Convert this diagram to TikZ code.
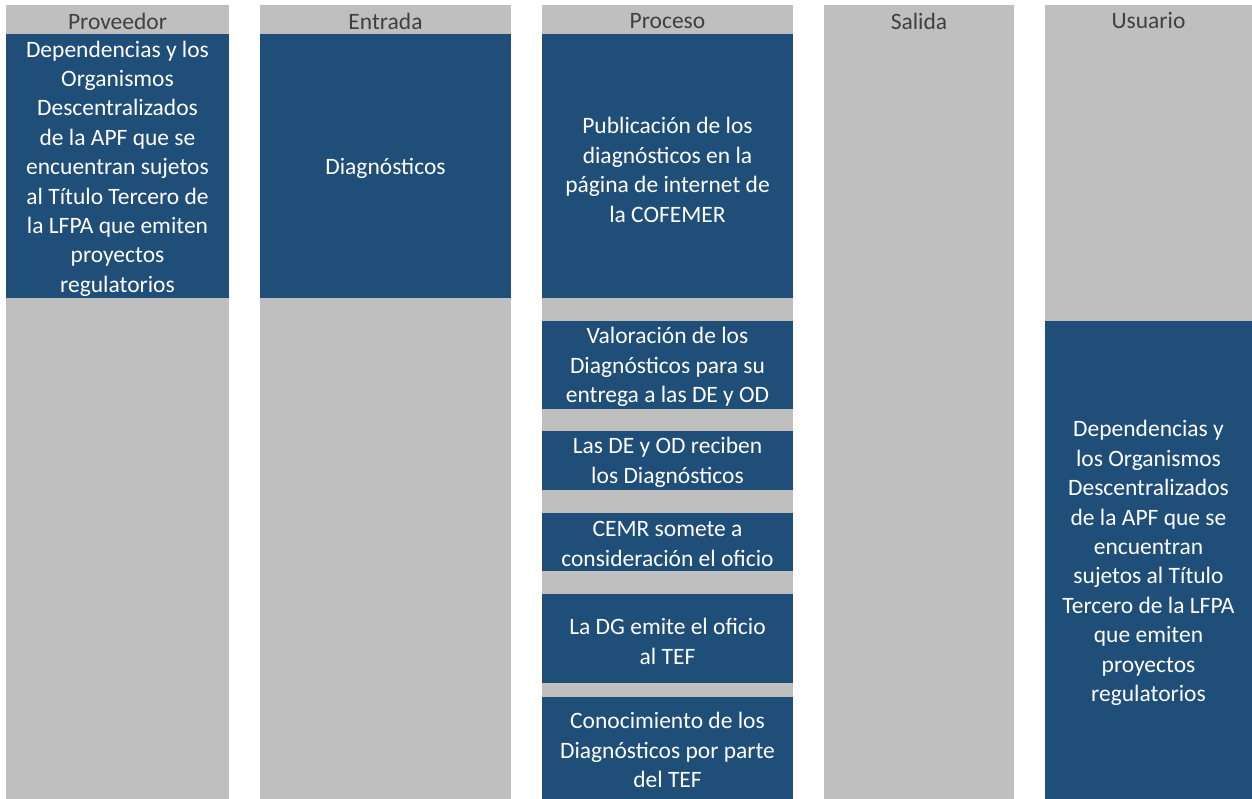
\documentclass[tikz,border=0pt]{standalone}
\usepackage{fontspec}
\setmainfont{Carlito}
\definecolor{colgray}{HTML}{BFBFBF}
\definecolor{colblue}{HTML}{1F4E79}
\definecolor{hdrtext}{HTML}{404040}
\begin{document}
\begin{tikzpicture}[x=1pt,y=-1pt,
  colbg/.style={fill=colgray, draw=none, anchor=north west, inner sep=0pt, outer sep=0pt},
  hdr/.style={anchor=center, inner sep=0pt, text=hdrtext, font=\fontsize{23.5}{29.4}\selectfont},
  bluebox/.style={fill=colblue, draw=none, anchor=north west, inner sep=0pt, outer sep=0pt},
  btext/.style={text=white, inner sep=0pt, align=center, anchor=center, font=\fontsize{23.5}{29.4}\selectfont}]
\useasboundingbox (0,0) rectangle (1252,799);
% column backgrounds
\node[colbg, minimum width=223pt, minimum height=794pt] (cprov) at (6,5) {};
\node[colbg, minimum width=251pt, minimum height=794pt] (cent) at (260,5) {};
\node[colbg, minimum width=251pt, minimum height=794pt] (cproc) at (542,5) {};
\node[colbg, minimum width=190pt, minimum height=794pt] (csal) at (824,5) {};
\node[colbg, minimum width=207pt, minimum height=794pt] (cusu) at (1045,5) {};
% headers
\node[hdr] (hprov) at (117.5,21) {Proveedor};
\node[hdr] (hent) at (385.5,21) {Entrada};
\node[hdr] (hproc) at (667.5,21) {Proceso};
\node[hdr] (hsal) at (919,21) {Salida};
\node[hdr] (husu) at (1148.5,21) {Usuario};
% blue boxes
\node[bluebox, minimum width=223pt, minimum height=264pt] (prov) at (6,34) {};
\node[bluebox, minimum width=251pt, minimum height=264pt] (ent) at (260,34) {};
\node[bluebox, minimum width=251pt, minimum height=264pt] (p1) at (542,34) {};
\node[bluebox, minimum width=251pt, minimum height=88pt] (p2) at (542,321) {};
\node[bluebox, minimum width=251pt, minimum height=59pt] (p3) at (542,431) {};
\node[bluebox, minimum width=251pt, minimum height=58pt] (p4) at (542,513) {};
\node[bluebox, minimum width=251pt, minimum height=89pt] (p5) at (542,594) {};
\node[bluebox, minimum width=251pt, minimum height=102pt] (p6) at (542,697) {};
\node[bluebox, minimum width=207pt, minimum height=478pt] (usu) at (1045,321) {};
% texts
\node[btext] (tprov) at ([yshift=-2.5pt]prov.center)
  {Dependencias y los\\Organismos\\Descentralizados\\de la APF que se\\encuentran sujetos\\al Título Tercero de\\la LFPA que emiten\\proyectos\\regulatorios};
\node[btext] (tent) at ([yshift=-2pt]ent.center) {Diagnósticos};
\node[btext] (tp1) at ([yshift=-4pt]p1.center)
  {Publicación de los\\diagnósticos en la\\página de internet de\\la COFEMER};
\node[btext] (tp2) at ([yshift=-2pt]p2.center)
  {Valoración de los\\Diagnósticos para su\\entrega a las DE y OD};
\node[btext] (tp3) at ([yshift=-2pt]p3.center)
  {Las DE y OD reciben\\los Diagnósticos};
\node[btext] (tp4) at ([yshift=-2pt]p4.center)
  {CEMR somete a\\consideración el oficio};
\node[btext] (tp5) at ([yshift=-3pt]p5.center)
  {La DG emite el oficio\\al TEF};
\node[btext] (tp6) at ([yshift=-2pt]p6.center)
  {Conocimiento de los\\Diagnósticos por parte\\del TEF};
\node[btext] (tusu) at ([yshift=-3pt]usu.center)
  {Dependencias y\\los Organismos\\Descentralizados\\de la APF que se\\encuentran\\sujetos al Título\\Tercero de la LFPA\\que emiten\\proyectos\\regulatorios};
\end{tikzpicture}
\end{document}
